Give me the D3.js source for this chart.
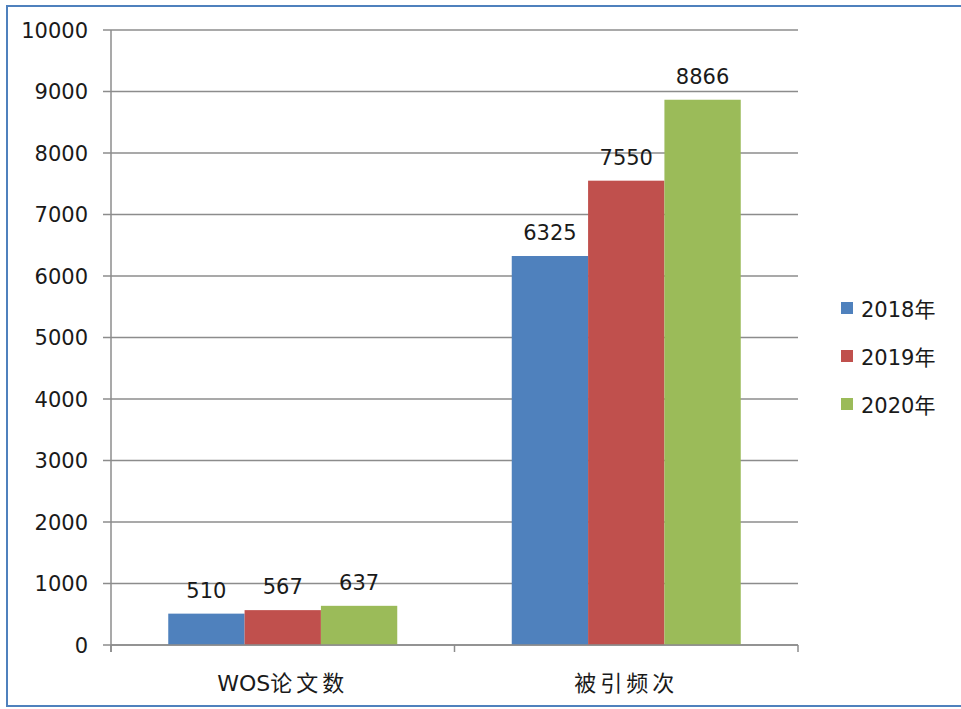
<!DOCTYPE html>
<html>
<head>
<meta charset="utf-8">
<script src="https://cdn.jsdelivr.net/npm/d3@7"></script>
<style>
  html, body { margin: 0; padding: 0; background: #fff; }
  svg { display: block; }
  text { font-family: "DejaVu Sans", "Noto Sans CJK SC", sans-serif; fill: #1a1a1a; }
</style>
</head>
<body>
<svg id="chart" width="961" height="709"></svg>
<script>
// Categories and yearly series
const categories = ["WOS论文数", "被引频次"];
const seriesNames = ["2018年", "2019年", "2020年"];
const values2018 = [510, 6325];
const values2019 = [567, 7550];
const values2020 = [637, 8866];
const yTicks = [0, 1000, 2000, 3000, 4000, 5000, 6000, 7000, 8000, 9000, 10000];
const colors = ["#4F81BD", "#C0504D", "#9BBB59"];

const seriesValues = [values2018, values2019, values2020];

const svg = d3.select("#chart");

// Outer frame
svg.append("rect")
  .attr("x", 7).attr("y", 6)
  .attr("width", 970).attr("height", 700)
  .attr("fill", "none")
  .attr("stroke", "#4F81BD")
  .attr("stroke-width", 2);

const plot = { left: 111, right: 798, top: 30, bottom: 645 };

const y = d3.scaleLinear().domain([0, 10000]).range([plot.bottom, plot.top]);
const x0 = d3.scaleBand().domain(categories).range([plot.left, plot.right]).padding(0);
const x1 = d3.scaleBand().domain(seriesNames).range([0, x0.bandwidth()])
  .paddingInner(0).paddingOuter(0.75);

// Horizontal gridlines
svg.append("g")
  .selectAll("line")
  .data(yTicks)
  .join("line")
  .attr("x1", plot.left - 8)
  .attr("x2", plot.right)
  .attr("y1", d => y(d))
  .attr("y2", d => y(d))
  .attr("stroke", "#8c8c8c")
  .attr("stroke-width", 1.5);

// Y tick labels
svg.append("g")
  .selectAll("text")
  .data(yTicks)
  .join("text")
  .attr("x", plot.left - 23)
  .attr("y", d => y(d))
  .attr("dy", "0.36em")
  .attr("text-anchor", "end")
  .attr("font-size", 21)
  .text(d => d);

// Bars
const groups = svg.append("g")
  .selectAll("g")
  .data(categories)
  .join("g")
  .attr("transform", d => `translate(${x0(d)},0)`);

const barData = (c, ci) => seriesNames.map((s, si) => ({ s, si, v: seriesValues[si][ci] }));

groups.selectAll("rect")
  .data(barData)
  .join("rect")
  .attr("x", d => x1(d.s))
  .attr("width", x1.bandwidth())
  .attr("y", d => y(d.v))
  .attr("height", d => y(0) - y(d.v))
  .attr("fill", d => colors[d.si]);

// Value labels
groups.selectAll("text")
  .data(barData)
  .join("text")
  .attr("x", d => x1(d.s) + x1.bandwidth() / 2)
  .attr("y", d => y(d.v) - 16)
  .attr("text-anchor", "middle")
  .attr("font-size", 21)
  .text(d => d.v);

// Axes lines
svg.append("line")
  .attr("x1", plot.left).attr("x2", plot.left)
  .attr("y1", plot.top).attr("y2", plot.bottom + 7)
  .attr("stroke", "#8c8c8c").attr("stroke-width", 1.5);

svg.append("line")
  .attr("x1", plot.left).attr("x2", plot.right)
  .attr("y1", plot.bottom).attr("y2", plot.bottom)
  .attr("stroke", "#8c8c8c").attr("stroke-width", 1.5);

// Category boundary ticks
const boundaries = categories.map(c => x0(c)).concat([x0.range()[1]]);
svg.append("g")
  .selectAll("line")
  .data(boundaries)
  .join("line")
  .attr("x1", d => d).attr("x2", d => d)
  .attr("y1", plot.bottom).attr("y2", plot.bottom + 7)
  .attr("stroke", "#8c8c8c").attr("stroke-width", 1.5);

// Category labels: CJK glyphs get extra tracking, Latin runs stay tight
const isCJK = ch => /[\u3400-\u9fff]/.test(ch);
const catLabels = svg.append("g")
  .selectAll("text")
  .data(categories)
  .join("text")
  .attr("x", d => x0(d) + x0.bandwidth() / 2)
  .attr("y", 691)
  .attr("text-anchor", "middle")
  .attr("font-size", 22);

catLabels.selectAll("tspan")
  .data(d => Array.from(d))
  .join("tspan")
  .attr("letter-spacing", ch => isCJK(ch) ? 4 : 0)
  .text(ch => ch);

// Legend
const legend = svg.append("g")
  .selectAll("g")
  .data(seriesNames)
  .join("g")
  .attr("transform", (d, i) => `translate(841,${302 + i * 48})`);

legend.append("rect")
  .attr("width", 12).attr("height", 12)
  .attr("fill", (d, i) => colors[i]);

legend.append("text")
  .attr("x", 20)
  .attr("y", 15)
  .attr("font-size", 21)
  .text(d => d);
</script>
</body>
</html>
